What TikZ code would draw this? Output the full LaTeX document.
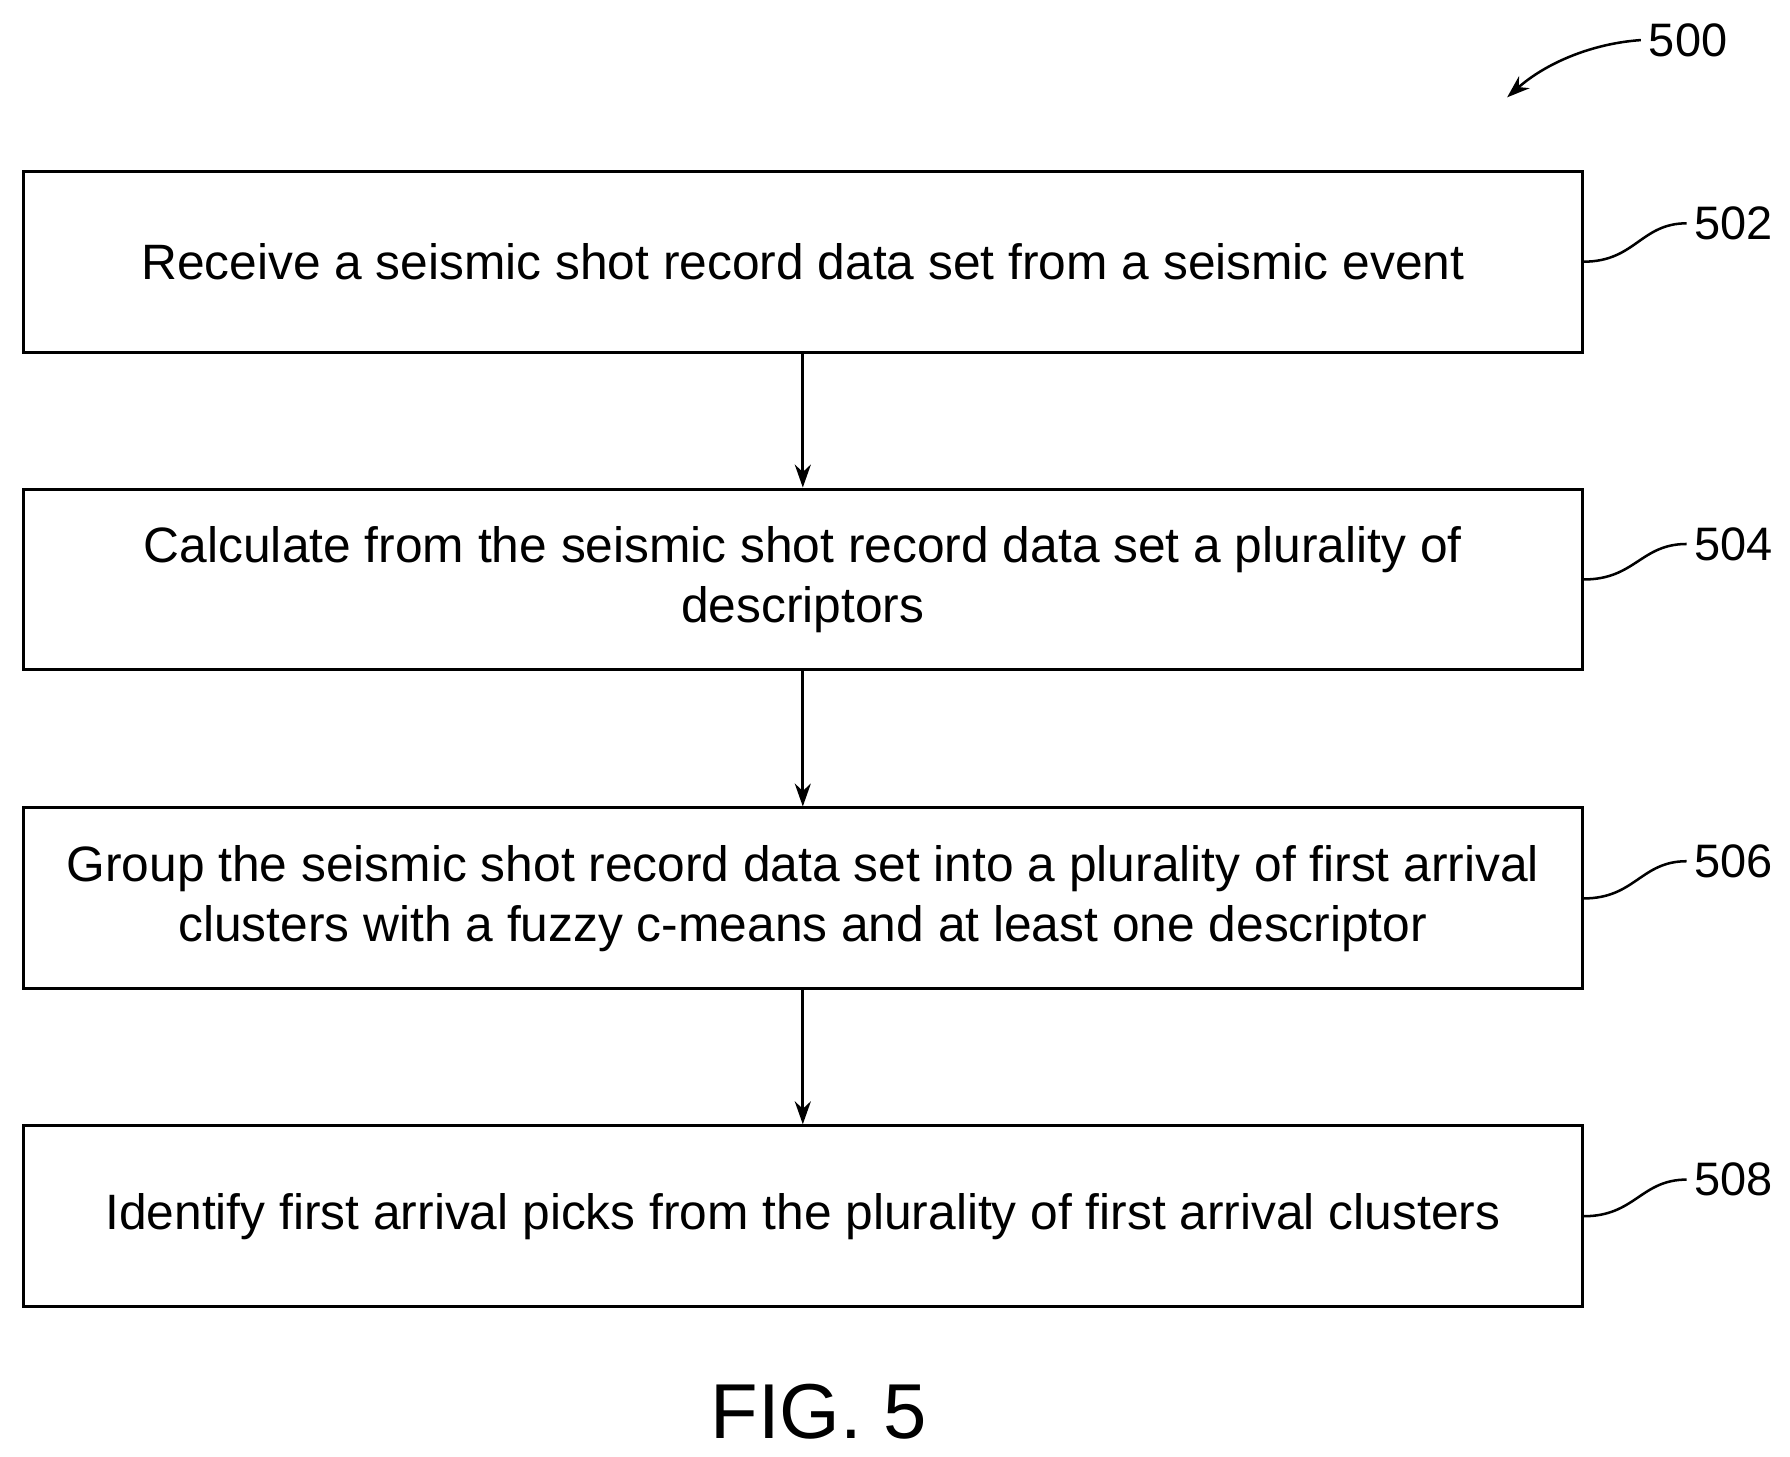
\documentclass[tikz,border=0pt]{standalone}
\usepackage{fontspec}
\setmainfont{Liberation Sans}
\usetikzlibrary{arrows.meta}
\begin{document}
\begin{tikzpicture}[x=0.5pt,y=-0.5pt,
  box/.style={draw,line width=1.3pt,minimum width=680.5pt,minimum height=79pt,align=center,font=\fontsize{21.7}{26}\selectfont,inner sep=0pt},
  arr/.style={-{Stealth[length=10pt,width=7pt]},line width=1.3pt},
  lab/.style={font=\fontsize{20.5}{24}\selectfont},
  sq/.style={line width=1.1pt}]
\useasboundingbox (0,0) rectangle (1563,1272);
\node[box] (b1) at (701,228.5) {Receive a seismic shot record data set from a seismic event};
\node[box] (b2) at (701,506) {Calculate from the seismic shot record data set a plurality of\\descriptors};
\node[box] (b3) at (701,784.5) {Group the seismic shot record data set into a plurality of first arrival\\clusters with a fuzzy c-means and at least one descriptor};
\node[box] (b4) at (701,1062) {Identify first arrival picks from the plurality of first arrival clusters};
\draw[arr] (b1) -- (b2);
\draw[arr] (b2) -- (b3);
\draw[arr] (b3) -- (b4);
\foreach \b/\n/\y in {b1/502/195,b2/504/475,b3/506/752,b4/508/1030}{
  \node[lab] (l\n) at (1514,\y) {\n};
  \draw[sq] (\b.east) .. controls +(45,0) and +(-40,0) .. (l\n.west);
}
\node[lab] (l500) at (1474,35) {500};
\coordinate (t500) at (1316,85);
\draw[line width=1.1pt,-{Stealth[length=10pt,width=7pt]}] (l500.west) .. controls (1390,38) and (1350,55) .. (t500);
\node[font=\fontsize{34}{40}\selectfont] (fig) at (715,1233) {FIG. 5};
\end{tikzpicture}
\end{document}
